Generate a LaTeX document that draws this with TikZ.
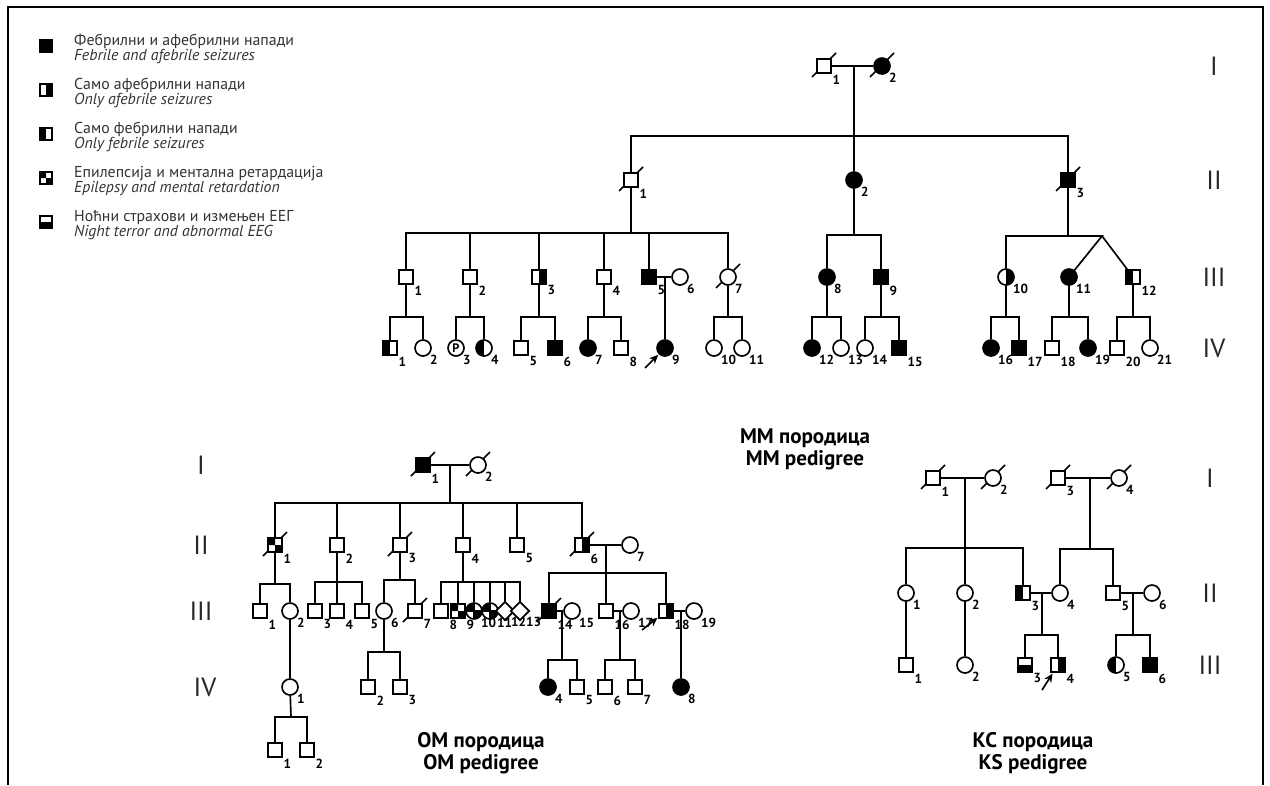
\documentclass[tikz,border=0pt]{standalone}
\usepackage{fontspec}
\setmainfont{PT Sans}
\usetikzlibrary{shapes.geometric,arrows.meta}
\pgfdeclarelayer{bg}
\pgfsetlayers{bg,main}
\tikzset{
	ln/.style={line width=0.95pt},
	ped/.style={ln,draw,fill=white,inner sep=0pt,label distance=0pt},
	sq/.style={ped,rectangle,minimum size=2.8mm},
	ci/.style={ped,circle,minimum size=3.2mm},
	dm/.style={ped,diamond,minimum size=3.8mm},
	af/.style={fill=black},
	lh/.style={path picture={\fill[black] (path picture bounding box.south west) rectangle (path picture bounding box.north);}},
	rh/.style={path picture={\fill[black] (path picture bounding box.south) rectangle (path picture bounding box.north east);}},
	bh/.style={path picture={\fill[black] (path picture bounding box.south west) rectangle (path picture bounding box.east);}},
	ck/.style={path picture={\fill[black] (path picture bounding box.north west) rectangle (path picture bounding box.center) (path picture bounding box.center) rectangle (path picture bounding box.south east);}},
	ckc/.style={path picture={\fill[black] (path picture bounding box.north west) rectangle (path picture bounding box.center) (path picture bounding box.center) rectangle (path picture bounding box.south east);
		\draw[black,line width=0.6pt] (path picture bounding box.north) -- (path picture bounding box.south) (path picture bounding box.west) -- (path picture bounding box.east);}},
	num/.style={font=\fontsize{7.5}{7.5}\selectfont\bfseries,inner sep=0.3pt},
	gen/.style={font=\fontsize{15}{15}\selectfont,text=black!85},
	ttl/.style={font=\fontsize{12}{12.5}\selectfont\bfseries,align=center},
	leg/.style={font=\fontsize{9}{8.8}\selectfont,align=left,anchor=west,text=black!80},
	prb/.style={ln,-{Stealth[length=5pt,width=4.5pt]},shorten >=0.5pt},
}
\newcommand\Dec[1]{\begin{pgfonlayer}{bg}\draw[ln] ([shift={(-12,11)}]#1.center) -- ([shift={(12,-13)}]#1.center);\end{pgfonlayer}}
\begin{document}
\begin{tikzpicture}[x=0.02cm,y=-0.02cm]
	\useasboundingbox (0,0) rectangle (1270,785);
	\draw[line width=0.7pt] (8,785) -- (8,7) -- (1263,7) -- (1263,785);

	\node[sq,af,minimum size=2.5mm] (lg1) at (46,46) {};
	\node[leg] (lt1) at (68,49) {Фебрилни и афебрилни напади\\\textit{Febrile and afebrile seizures}};
	\node[sq,rh,minimum size=2.5mm] (lg2) at (46,90) {};
	\node[leg] (lt2) at (68,93) {Само афебрилни напади\\\textit{Only afebrile seizures}};
	\node[sq,lh,minimum size=2.5mm] (lg3) at (46,134) {};
	\node[leg] (lt3) at (68,137) {Само фебрилни напади\\\textit{Only febrile seizures}};
	\node[sq,ck,minimum size=2.5mm] (lg4) at (46,178) {};
	\node[leg] (lt4) at (68,181) {Епилепсија и ментална ретардација\\\textit{Epilepsy and mental retardation}};
	\node[sq,bh,minimum size=2.5mm] (lg5) at (46,222) {};
	\node[leg] (lt5) at (68,225) {Ноћни страхови и измењен ЕЕГ\\\textit{Night terror and abnormal EEG}};

	\node[gen] (mgI) at (1214,66) {I};
	\node[gen] (mgII) at (1214,180) {II};
	\node[gen] (mgIII) at (1214,277) {III};
	\node[gen] (mgIV) at (1214,348) {IV};

	\node[sq,label={[num]south east:1}] (mI1) at (824,66) {};
	\node[ci,af,label={[num]south east:2}] (mI2) at (882,66) {};
	\node[sq,label={[num]south east:1}] (mII1) at (631,180) {};
	\node[ci,af,label={[num]south east:2}] (mII2) at (854,180) {};
	\node[sq,af,label={[num]south east:3}] (mII3) at (1068,180) {};
	\Dec{mI1} \Dec{mI2} \Dec{mII1} \Dec{mII3}
	\coordinate (mIm) at (854,66);
	\coordinate (mIIs) at (854,136);
	\draw[ln] (mI1) -- (mI2) (mIm) -- (mIIs) (mII1) |- (mIIs) -| (mII3) (mIIs) -- (mII2);

	\node[sq,label={[num]south east:1}] (mIII1) at (406,277) {};
	\node[sq,label={[num]south east:2}] (mIII2) at (470,277) {};
	\node[sq,rh,label={[num]south east:3}] (mIII3) at (539,277) {};
	\node[sq,label={[num]south east:4}] (mIII4) at (604,277) {};
	\node[sq,af,label={[num]south east:5}] (mIII5) at (649,277) {};
	\node[ci,label={[num]south east:6}] (mIII6) at (680,277) {};
	\node[ci,label={[num]south east:7}] (mIII7) at (728,277) {};
	\node[ci,af,label={[num]south east:8}] (mIII8) at (827,277) {};
	\node[sq,af,label={[num]south east:9}] (mIII9) at (881,277) {};
	\node[ci,rh,label={[num]south east:10}] (mIII10) at (1006,277) {};
	\node[ci,af,label={[num]south east:11}] (mIII11) at (1069,277) {};
	\node[sq,lh,label={[num]south east:12}] (mIII12) at (1133,277) {};
	\Dec{mIII7}
	\coordinate (mIIIa) at (631,233);
	\coordinate (mIIIb) at (854,235);
	\coordinate (mIIIc) at (1068,236);
	\coordinate (mtw) at (1102,236);
	\draw[ln] (mII1) -- (mIIIa) (mIII1) |- (mIIIa) -| (mIII7);
	\foreach \n in {2,...,5} \draw[ln] (mIIIa) -| (mIII\n);
	\draw[ln] (mII2) -- (mIIIb) (mIII8) |- (mIIIb) -| (mIII9);
	\draw[ln] (mII3) -- (mIIIc) (mIII10) |- (mtw) -- (mIII11) (mtw) -- (mIII12);
	\draw[ln] (mIII5) -- (mIII6);

	\node[sq,lh,label={[num]south east:1}] (mIV1) at (390,348) {};
	\node[ci,label={[num]south east:2}] (mIV2) at (423,348) {};
	\node[ci,font=\fontsize{7}{7}\selectfont\bfseries,label={[num]south east:3}] (mIV3) at (456,348) {P};
	\node[ci,lh,label={[num]south east:4}] (mIV4) at (484,348) {};
	\node[sq,label={[num]south east:5}] (mIV5) at (521,348) {};
	\node[sq,af,label={[num]south east:6}] (mIV6) at (555,348) {};
	\node[ci,af,label={[num]south east:7}] (mIV7) at (588,348) {};
	\node[sq,label={[num]south east:8}] (mIV8) at (621,348) {};
	\node[ci,af,label={[num]south east:9}] (mIV9) at (665,348) {};
	\node[ci,label={[num]south east:10}] (mIV10) at (714,348) {};
	\node[ci,label={[num]south east:11}] (mIV11) at (742,348) {};
	\node[ci,af,label={[num]south east:12}] (mIV12) at (812,348) {};
	\node[ci,label={[num]south east:13}] (mIV13) at (841,348) {};
	\node[ci,label={[num]south east:14}] (mIV14) at (865,348) {};
	\node[sq,af,label={[num]south east:15}] (mIV15) at (899,348) {};
	\node[ci,af,label={[num]south east:16}] (mIV16) at (991,348) {};
	\node[sq,af,label={[num]south east:17}] (mIV17) at (1019,348) {};
	\node[sq,label={[num]south east:18}] (mIV18) at (1052,348) {};
	\node[ci,af,label={[num]south east:19}] (mIV19) at (1088,348) {};
	\node[sq,label={[num]south east:20}] (mIV20) at (1117,348) {};
	\node[ci,label={[num]south east:21}] (mIV21) at (1150,348) {};
	\foreach \p/\a/\b/\x in {mIII1/mIV1/mIV2/406,mIII2/mIV3/mIV4/470,mIII3/mIV5/mIV6/539,mIII4/mIV7/mIV8/604,mIII7/mIV10/mIV11/728,mIII8/mIV12/mIV13/827,mIII9/mIV14/mIV15/881,mIII10/mIV16/mIV17/1006,mIII11/mIV18/mIV19/1069,mIII12/mIV20/mIV21/1133}{
		\coordinate (s) at (\x,317);
		\draw[ln] (\p) -- (s) (\a) |- (s) -| (\b);
	}
	\coordinate (mIIIm) at (665,277);
	\draw[ln] (mIIIm) -- (mIV9);
	\coordinate (mpr) at (645,368);
	\draw[prb] (mpr) -- (mIV9);
	\node[ttl] (mttl) at (805,449) {ММ породица\\MM pedigree};

	\node[gen] (ogI) at (201,465) {I};
	\node[gen] (ogII) at (201,545) {II};
	\node[gen] (ogIII) at (201,611) {III};
	\node[gen] (ogIV) at (205,687) {IV};

	\node[sq,af,label={[num]south east:1}] (oI1) at (423,465) {};
	\node[ci,label={[num]south east:2}] (oI2) at (478,465) {};
	\Dec{oI1} \Dec{oI2}
	\node[sq,ck,label={[num]south east:1}] (oII1) at (275,545) {};
	\node[sq,label={[num]south east:2}] (oII2) at (337,545) {};
	\node[sq,label={[num]south east:3}] (oII3) at (400,545) {};
	\node[sq,label={[num]south east:4}] (oII4) at (463,545) {};
	\node[sq,label={[num]south east:5}] (oII5) at (517,545) {};
	\node[sq,rh,label={[num]south east:6}] (oII6) at (582,545) {};
	\node[ci,label={[num]south east:7}] (oII7) at (630,545) {};
	\Dec{oII1} \Dec{oII3} \Dec{oII6}
	\coordinate (oIm) at (450,465);
	\coordinate (oIIs) at (450,503);
	\draw[ln] (oI1) -- (oI2) (oIm) -- (oIIs) (oII1) |- (oIIs) -| (oII6);
	\foreach \n in {2,...,5} \draw[ln] (oIIs) -| (oII\n);
	\draw[ln] (oII6) -- (oII7);

	\node[sq,label={[num]south east:1}] (oIII1) at (260,611) {};
	\node[ci,label={[num]south east:2}] (oIII2) at (290,611) {};
	\node[sq,label={[num]south east:3}] (oIII3) at (315,611) {};
	\node[sq,label={[num]south east:4}] (oIII4) at (337,611) {};
	\node[sq,label={[num]south east:5}] (oIII5) at (362,611) {};
	\node[ci,label={[num]south east:6}] (oIII6) at (384,611) {};
	\node[sq,label={[num]south east:7}] (oIII7) at (415,611) {};
	\node[sq,label={[num]south east:8}] (oIII8) at (441,611) {};
	\node[sq,ck,label={[num]south east:9}] (oIII9) at (458,611) {};
	\node[ci,ckc,label={[num]south east:10}] (oIII10) at (474,611) {};
	\node[ci,ckc,label={[num]south east:11}] (oIII11) at (490,611) {};
	\node[dm,label={[num]south east:12}] (oIII12) at (505,611) {};
	\node[dm,label={[num]south east:13}] (oIII13) at (520,611) {};
	\node[sq,af,label={[num]south east:14}] (oIII14) at (549,611) {};
	\node[ci,label={[num]south east:15}] (oIII15) at (572,611) {};
	\node[sq,label={[num]south east:16}] (oIII16) at (606,611) {};
	\node[ci,label={[num]south east:17}] (oIII17) at (631,611) {};
	\node[sq,rh,label={[num]south east:18}] (oIII18) at (666,611) {};
	\node[ci,label={[num]south east:19}] (oIII19) at (694,611) {};
	\Dec{oIII7} \Dec{oIII14}
	\coordinate (oIIIa) at (275,584);
	\coordinate (oIIIb) at (337,582);
	\coordinate (oIIIc) at (400,580);
	\coordinate (oIIId) at (463,582);
	\coordinate (oIIm) at (606,545);
	\coordinate (oIIIe) at (606,573);
	\draw[ln] (oII1) -- (oIIIa) (oIII1) |- (oIIIa) -| (oIII2);
	\draw[ln] (oII2) -- (oIIIb) (oIII3) |- (oIIIb) -| (oIII5) (oIIIb) -- (oIII4);
	\draw[ln] (oII3) -- (oIIIc) (oIII6) |- (oIIIc) -| (oIII7);
	\draw[ln] (oII4) -- (oIIId) (oIII8) |- (oIIId) -| (oIII13);
	\foreach \n in {9,...,12} \draw[ln] (oIIId) -| (oIII\n);
	\draw[ln] (oIIm) -- (oIIIe) (oIII14) |- (oIIIe) -| (oIII18) (oIIIe) -- (oIII16);
	\draw[ln] (oIII14) -- (oIII15) (oIII16) -- (oIII17) (oIII18) -- (oIII19);

	\node[ci,label={[num]south east:1}] (oIV1) at (290,687) {};
	\node[sq,label={[num]south east:2}] (oIV2) at (368,687) {};
	\node[sq,label={[num]south east:3}] (oIV3) at (400,687) {};
	\node[ci,af,label={[num]south east:4}] (oIV4) at (548,687) {};
	\node[sq,label={[num]south east:5}] (oIV5) at (577,687) {};
	\node[sq,label={[num]south east:6}] (oIV6) at (605,687) {};
	\node[sq,label={[num]south east:7}] (oIV7) at (635,687) {};
	\node[ci,af,label={[num]south east:8}] (oIV8) at (681,687) {};
	\node[sq,label={[num]south east:1}] (oV1) at (275,750) {};
	\node[sq,label={[num]south east:2}] (oV2) at (307,750) {};
	\coordinate (oIVc) at (384,652);
	\coordinate (oIIIm14) at (562,611);
	\coordinate (oIVa) at (562,660);
	\coordinate (oIIIm16) at (620,611);
	\coordinate (oIVb) at (620,660);
	\coordinate (oIIIm18) at (681,611);
	\coordinate (oVs) at (291,717);
	\draw[ln] (oIII2) -- (oIV1) (oIV1) -- (oVs) (oV1) |- (oVs) -| (oV2);
	\draw[ln] (oIII6) -- (oIVc) (oIV2) |- (oIVc) -| (oIV3);
	\draw[ln] (oIIIm14) -- (oIVa) (oIV4) |- (oIVa) -| (oIV5);
	\draw[ln] (oIIIm16) -- (oIVb) (oIV6) |- (oIVb) -| (oIV7);
	\draw[ln] (oIIIm18) -- (oIV8);
	\coordinate (opr) at (642,630);
	\draw[prb] (opr) -- (oIII18);
	\node[ttl] (ottl) at (481,753) {ОМ породица\\OM pedigree};

	\node[gen] (kgI) at (1210,478) {I};
	\node[gen] (kgII) at (1210,593) {II};
	\node[gen] (kgIII) at (1210,665) {III};

	\node[sq,label={[num]south east:1}] (kI1) at (933,478) {};
	\node[ci,label={[num]south east:2}] (kI2) at (993,478) {};
	\node[sq,label={[num]south east:3}] (kI3) at (1058,478) {};
	\node[ci,label={[num]south east:4}] (kI4) at (1119,478) {};
	\Dec{kI1} \Dec{kI2} \Dec{kI3} \Dec{kI4}
	\node[ci,label={[num]south east:1}] (kII1) at (906,593) {};
	\node[ci,label={[num]south east:2}] (kII2) at (965,593) {};
	\node[sq,lh,label={[num]south east:3}] (kII3) at (1023,593) {};
	\node[ci,label={[num]south east:4}] (kII4) at (1060,593) {};
	\node[sq,label={[num]south east:5}] (kII5) at (1113,593) {};
	\node[ci,label={[num]south east:6}] (kII6) at (1152,593) {};
	\coordinate (kIm1) at (965,478);
	\coordinate (kIIa) at (965,548);
	\coordinate (kIm3) at (1090,478);
	\coordinate (kIIb) at (1090,549);
	\draw[ln] (kI1) -- (kI2) (kIm1) -- (kIIa) (kII1) |- (kIIa) -| (kII3) (kIIa) -- (kII2);
	\draw[ln] (kI3) -- (kI4) (kIm3) -- (kIIb) (kII4) |- (kIIb) -| (kII5);
	\draw[ln] (kII3) -- (kII4) (kII5) -- (kII6);

	\node[sq,label={[num]south east:1}] (kIII1) at (906,665) {};
	\node[ci,label={[num]south east:2}] (kIII2) at (965,665) {};
	\node[sq,bh,label={[num]south east:3}] (kIII3) at (1025,665) {};
	\node[sq,rh,label={[num]south east:4}] (kIII4) at (1058,665) {};
	\node[ci,lh,label={[num]south east:5}] (kIII5) at (1116,665) {};
	\node[sq,af,label={[num]south east:6}] (kIII6) at (1150,665) {};
	\coordinate (kIIm3) at (1042,593);
	\coordinate (kIIIa) at (1042,635);
	\coordinate (kIIm5) at (1133,593);
	\coordinate (kIIIb) at (1133,635);
	\draw[ln] (kII1) -- (kIII1) (kII2) -- (kIII2);
	\draw[ln] (kIIm3) -- (kIIIa) (kIII3) |- (kIIIa) -| (kIII4);
	\draw[ln] (kIIm5) -- (kIIIb) (kIII5) |- (kIIIb) -| (kIII6);
	\coordinate (kpr) at (1042,690);
	\draw[prb] (kpr) -- (kIII4);
	\node[ttl] (kttl) at (1033,753) {КС породица\\KS pedigree};
\end{tikzpicture}
\end{document}
